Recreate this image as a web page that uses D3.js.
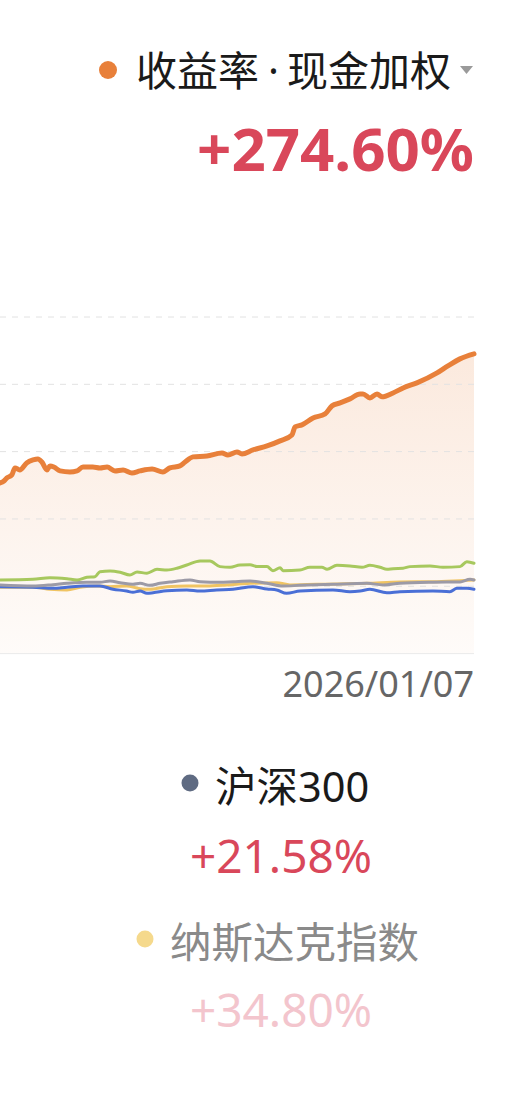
<!DOCTYPE html>
<html>
<head>
<meta charset="utf-8">
<script src="https://cdn.jsdelivr.net/npm/d3@7"></script>
<style>
  body { margin: 0; background: #fff; }
  svg { display: block; font-family: "Noto Sans", "Noto Sans CJK SC", sans-serif; }
</style>
</head>
<body>
<div id="chart"></div>
<script>
// day index (visible window) and cumulative return values
var portfolio = [[0,76.7],[2,78.2],[3.5,80.5],[6,82.7],[7.6,87.9],[10,86.4],[13.5,91.6],[16.7,93.8],[19.2,94.6],[21.2,92.3],[23.8,86.4],[25.3,89.4],[27.3,88.6],[30.4,85.7],[35.4,84.9],[39,85.7],[42,88.6],[47,88.6],[50.6,87.9],[54.2,88.6],[58.2,85.7],[62.3,86.4],[66.8,84.2],[70.9,85.7],[77,87.1],[82.5,84.9],[86,87.9],[91.1,89.4],[93.7,92.3],[97.7,96.1],[104.8,96.8],[112.4,99.0],[115.4,97.5],[120,99.8],[122.5,98.3],[128.1,101.3],[135.2,104.2],[141.8,108],[147.8,112.4],[149.4,118.4],[152.9,119.9],[158.5,125.0],[164.6,128.0],[168.1,134.0],[172.2,136.2],[177.2,139.2],[182.3,142.9],[183.8,142.9],[187.3,139.9],[190.9,142.9],[193.4,140.7],[199,143.6],[204.1,147.3],[211.1,151.1],[221.3,158.5],[226.8,163.7],[232.9,168.9],[240,172.6]];
var greenSeries = [[0,4.7],[16.7,5.2],[25.3,6.4],[33.9,5.6],[39,4.7],[44,6.7],[48.1,7.1],[50.6,10.8],[55.7,11.4],[60.8,10.4],[65.8,8.4],[69.4,10.6],[74.4,9.7],[79.5,12.6],[84.5,12.1],[89.6,13.4],[94.6,15.8],[101.3,18.8],[106.3,18.8],[111.4,14.6],[116.5,14.1],[121.5,15.8],[126.6,16.0],[130.1,14.6],[135.2,14.6],[138.2,11.6],[141.8,13.8],[143.3,11.6],[151.9,12.1],[156.9,14.1],[163,14.1],[165.6,12.6],[170.6,15.6],[177.2,15.1],[183.3,14.1],[187.3,15.6],[192.4,14.1],[195.9,12.6],[199,13.1],[204.1,13.4],[207.6,14.6],[217.7,15.1],[224.3,14.1],[232.9,14.6],[236.4,18.3],[240,17.1]];
var graySeries = [[0,1.0],[16.7,0.2],[26.8,1.2],[33.9,2.2],[44,3.0],[50.6,3.0],[55.7,3.9],[60.8,2.7],[67.3,1.5],[70.9,2.2],[75.9,0.7],[81,2.2],[87.6,3.4],[96.2,4.7],[101.3,3.4],[111.4,3.0],[118,3.4],[126.6,3.9],[135.2,2.2],[143.3,0.2],[151.9,0.7],[168.6,1.5],[185.8,2.2],[193.9,1.0],[202.5,2.2],[219.2,3.0],[232.9,3.2],[238,5.2],[240,4.7]];
var nasdaq = [[0,-0.7],[16.7,-0.7],[25.3,-2.2],[33.9,-2.7],[40.5,-0.7],[49.1,0.2],[55.7,-0.3],[64.1,0.2],[70.9,-1.8],[75.9,-2.2],[84.5,-0.3],[94.6,0.2],[104.8,0.2],[114.8,1.0],[126.6,2.2],[140.1,2.7],[146.8,1.0],[160.4,1.5],[185.8,2.2],[202.5,3.2],[219.2,3.4],[232.9,4.2],[240,4.7]];
var hs300 = [[0,-0.3],[16.7,-0.7],[26.8,-1.5],[33.9,-0.7],[42,0.2],[50.6,0.2],[57.2,-2.2],[64.1,-3.5],[67.3,-4.5],[70.9,-3.5],[74.4,-5.2],[77.5,-4.8],[84.5,-3.3],[94.6,-2.7],[101.3,-3.5],[109.7,-2.7],[118,-2.2],[128.1,-0.3],[135.2,-2.0],[140.1,-2.7],[145.1,-5.2],[151.9,-3.5],[168.6,-2.7],[177.2,-4.0],[182.3,-3.5],[187.3,-2.2],[195.9,-4.8],[202.5,-4.0],[219.2,-3.5],[227.8,-4.0],[231.4,-1.5],[236.4,-1.5],[240,-2.2]];
var yTicks = [-50, 0, 50, 100, 150, 200];
var endDate = "2026/01/07";
var mainLabel = ["收益率", "·", "现金加权"], mainValue = "+274.60%";
var legendNames = ["沪深300", "纳斯达克指数"];
var legendValues = ["+21.58%", "+34.80%"];

var W = 510, H = 1099;
var svg = d3.select("#chart").append("svg").attr("width", W).attr("height", H);

var x = d3.scaleLinear().domain([0, 240]).range([0, 474]);
var y = d3.scaleLinear().domain([-50, 200]).range([653.6, 317]);

var defs = svg.append("defs");
var grad = defs.append("linearGradient").attr("id", "fillGrad")
  .attr("x1", 0).attr("y1", 0).attr("x2", 0).attr("y2", 1);
grad.append("stop").attr("offset", "0%").attr("stop-color", "#e8803a").attr("stop-opacity", 0.17);
grad.append("stop").attr("offset", "100%").attr("stop-color", "#e8803a").attr("stop-opacity", 0.03);

var area = d3.area().x(function(d) { return x(d[0]); }).y0(y(-50)).y1(function(d) { return y(d[1]); })
  .curve(d3.curveMonotoneX);
svg.append("path").datum(portfolio).attr("d", area).attr("fill", "url(#fillGrad)");

// grid
svg.selectAll(".grid").data(yTicks).enter().append("line")
  .attr("x1", 0).attr("x2", 474)
  .attr("y1", function(d) { return y(d); }).attr("y2", function(d) { return y(d); })
  .attr("stroke", function(d) { return d == -50 ? "#ebebeb" : "#e2e2e2"; })
  .attr("stroke-width", 1)
  .attr("stroke-dasharray", function(d) { return d == -50 ? null : "6,6"; });

var line = d3.line().x(function(d) { return x(d[0]); }).y(function(d) { return y(d[1]); })
  .curve(d3.curveMonotoneX);

var series = [
  {data: nasdaq, color: "#f0c463", w: 3},
  {data: hs300, color: "#4a6fd6", w: 3},
  {data: graySeries, color: "#9c9aa6", w: 3},
  {data: greenSeries, color: "#a7c85e", w: 3},
  {data: portfolio, color: "#e8803a", w: 5}
];
series.forEach(function(s) {
  svg.append("path").datum(s.data).attr("d", line)
    .attr("fill", "none").attr("stroke", s.color).attr("stroke-width", s.w)
    .attr("stroke-linejoin", "round").attr("stroke-linecap", "round");
});

// top legend
svg.append("circle").attr("cx", 108).attr("cy", 70).attr("r", 9).attr("fill", "#e8803a");
var lbl = svg.append("text").attr("x", 136).attr("y", 86).attr("font-size", 41)
  .attr("fill", "#1a1a1a");
lbl.append("tspan").attr("font-family", "'Noto Sans CJK SC', sans-serif").text(mainLabel[0]);
lbl.append("tspan").attr("dx", 9).attr("font-family", "'Noto Sans', sans-serif").text(mainLabel[1]);
lbl.append("tspan").attr("dx", 8).attr("font-family", "'Noto Sans CJK SC', sans-serif").text(mainLabel[2]);
svg.append("path").attr("d", "M460,66 L473,66 L466.5,74 Z").attr("fill", "#9a9a9a");
svg.append("text").attr("x", 474).attr("y", 171).attr("text-anchor", "end")
  .attr("font-size", 60).attr("font-weight", "bold").attr("fill", "#d9475a").text(mainValue);

svg.append("text").attr("x", 474).attr("y", 697).attr("text-anchor", "end")
  .attr("font-size", 36).attr("fill", "#666").text(endDate);

// bottom legends
var legendColors = ["#5f6b82", "#f5d98c"];
var textColors = ["#1a1a1a", "#8a8a8a"];
var valueColors = ["#d9475a", "#f3c5cd"];
var rows = [
  {dot: 190, tx: 215, ty: 802, vy: 873},
  {dot: 145, tx: 170, ty: 958, vy: 1027}
];
rows.forEach(function(r, i) {
  svg.append("circle").attr("cx", r.dot).attr("cy", r.ty - 19).attr("r", 8.5).attr("fill", legendColors[i]);
  svg.append("text").attr("x", r.tx).attr("y", r.ty).attr("font-size", 41.5)
    .attr("fill", textColors[i]).text(legendNames[i]);
  svg.append("text").attr("x", 281).attr("y", r.vy).attr("text-anchor", "middle")
    .attr("font-size", 46).attr("fill", valueColors[i]).text(legendValues[i]);
});
</script>
</body>
</html>
